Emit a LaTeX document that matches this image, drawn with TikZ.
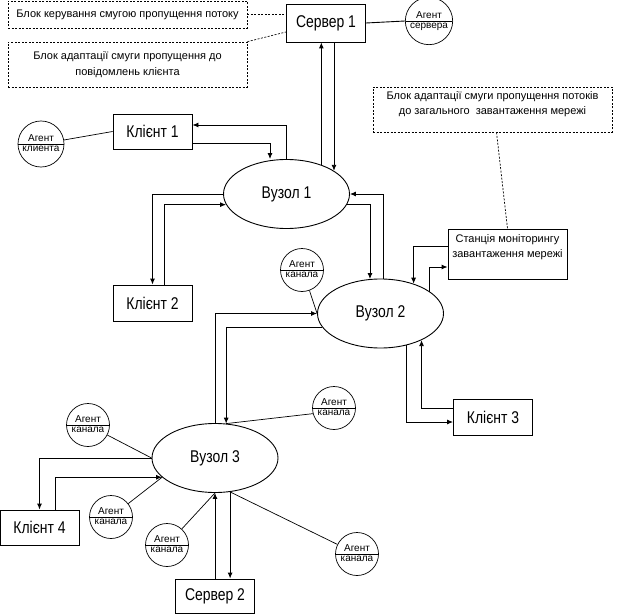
\documentclass[tikz,border=0pt]{standalone}
\usepackage{fontspec}
\setmainfont{Liberation Sans}
\newfontfamily\narrowfont[FakeStretch=0.82]{Liberation Sans}
\usepackage{tikz}
\usetikzlibrary{shapes.geometric}
\usetikzlibrary{shapes.multipart}
\usetikzlibrary{arrows.meta}
\tikzstyle{plainbox}=[draw, line width=0.9pt, inner sep=0pt, font=\narrowfont\fontsize{17}{20}\selectfont]
\tikzstyle{client}=[plainbox, minimum width=79, minimum height=36]
\tikzstyle{hub}=[plainbox, ellipse, minimum width=126, minimum height=69]
\tikzstyle{agent}=[draw, line width=0.7pt, circle split, minimum size=43, inner sep=1.8pt, font=\fontsize{10}{11}\selectfont]
\tikzstyle{note}=[draw, line width=0.7pt, dash pattern=on 2pt off 1.5pt, minimum width=239, align=center, font=\fontsize{11}{16}\selectfont]
\tikzstyle{notetext}=[inner sep=0pt, anchor=north, align=center, font=\fontsize{11}{15}\selectfont]
\tikzstyle{link}=[line width=0.9pt]
\tikzstyle{flow}=[link, -{Latex[length=6pt,width=5pt]}]
\tikzstyle{wire}=[line width=0.7pt]
\tikzstyle{hint}=[line width=0.7pt, dash pattern=on 2pt off 1.5pt]

\begin{document}
\begin{tikzpicture}[x=1pt, y=-1pt]
    \useasboundingbox (0,0) rectangle (618,615);
    \node[client, minimum height=38] (srv1) at (326,23) {Сервер 1};
    \node[agent] (asrv) at (429,21) {Агент \nodepart{lower} сервера};
    \node[client, minimum height=35] (k1) at (152.5,131.5) {Клієнт 1};
    \node[agent] (acl) at (41,144) {Агент \nodepart{lower} клиента};
    \node[client] (k2) at (152.5,303) {Клієнт 2};
    \node[hub] (v1) at (286.5,194) {Вузол 1};
    \node[hub] (v2) at (380.5,313.5) {Вузол 2};
    \node[hub] (v3) at (215,458) {Вузол 3};
    \node[draw, line width=0.9pt, minimum width=119, minimum height=50] (mon) at (507.5,254) {};
    \node[notetext] (montext) at ([yshift=-6pt]mon.north) {Станція моніторингу\\завантаження мережі};
    \node[client] (k3) at (493,417) {Клієнт 3};
    \node[client, minimum height=35] (k4) at (39.5,527.5) {Клієнт 4};
    \node[client, minimum height=34] (srv2) at (215,596) {Сервер 2};
    \node[agent] (a2) at (302,270) {Агент \nodepart{lower} канала};
    \node[agent] (a3r) at (334,408) {Агент \nodepart{lower} канала};
    \node[agent] (a3ul) at (88,425) {Агент \nodepart{lower} канала};
    \node[agent] (a3l) at (111,517) {Агент \nodepart{lower} канала};
    \node[agent] (a3b) at (167,545) {Агент \nodepart{lower} канала};
    \node[agent] (a3br) at (357,554) {Агент \nodepart{lower} канала};
    \node[note, minimum height=27] (n1) at (127.5,14.5) {Блок керування смугою пропущення потоку};
    \node[note, minimum height=45] (n2) at (127.5,64.5) {Блок адаптації смуги пропущення до\\повідомлень клієнта};
    \node[note, minimum height=45] (n3) at (492.5,109.5) {};
    \node[notetext] (n3text) at ([yshift=-5pt]n3.north) {Блок адаптації смуги пропущення потоків\\до загального\ \ завантаження мережі};

    \draw[link] (srv1.east) -- (asrv.west);
    \draw[hint] (n1.east) -- (n1.east -| srv1.west);
    \draw[hint] (n2.north east) -- ([yshift=-9pt]srv1.west);
    \draw[hint] ([xshift=4pt]n3.south) -- (mon.north);
    \draw[wire] (acl) -- (k1.west);
    \draw[flow] (v1.north) |- ([yshift=6.5pt]k1.east);
    \draw[flow] ([yshift=-11.5pt]k1.east) -| ([xshift=-16.5pt]v1.north);
    \draw[flow] (v1.west) -| (k2.north);
    \draw[flow] ([xshift=11.5pt]k2.north) |- (v1.190);
    \draw[flow] (v1.40) -- (v1.40 |- srv1.south);
    \draw[flow] (v1.26 |- srv1.south) -- (v1.26);
    \draw[flow] (v1.-10) -| (v2.107);
    \draw[flow] ([xshift=2.5pt]v2.north) |- (v1.east);
    \draw[flow] ([yshift=8pt]mon.west) -| (v2.42);
    \draw[flow] (v2.24) |- ([yshift=-13pt]mon.west);
    \draw[wire] (a2.-70) -- (v2.west);
    \draw[flow] (v3.north) |- (v2.west);
    \draw[flow] (v2.193) -| (v3.72);
    \draw[flow] (v2.-51) |- ([yshift=-5pt]k3.west);
    \draw[flow] ([yshift=9pt]k3.west) -| (v2.-33);
    \draw[wire] (v3.72) -- (a3r.195);
    \draw[flow] (v3.west) -| (k4.north);
    \draw[flow] ([xshift=15.5pt]k4.north) |- (v3.200);
    \draw[flow] (srv2.north) -- (v3.south);
    \draw[flow] (v3.-66) -- (v3.-66 |- srv2.north);
    \draw[wire] (a3ul) -- (v3.west);
    \draw[wire] (a3l) -- (v3.200);
    \draw[wire] (a3b) -- (v3.south);
    \draw[wire] (v3.-66) -- (a3br);
\end{tikzpicture}
\end{document}
